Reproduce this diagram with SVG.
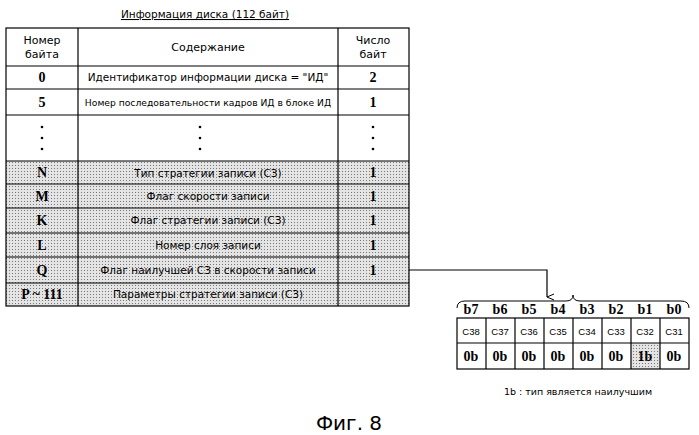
<svg xmlns="http://www.w3.org/2000/svg" width="699" height="435" viewBox="0 0 699 435">
<defs>
<pattern id="dots" width="3" height="3" patternUnits="userSpaceOnUse"><rect width="3" height="3" fill="#e4e4e4"/><rect width="1" height="1" fill="#777"/></pattern>
<marker id="ar" markerWidth="8" markerHeight="8" refX="4" refY="7" orient="auto" markerUnits="userSpaceOnUse"><path d="M1,0 L4,7 L7,0" fill="none" stroke="#000"/></marker>
<style>
text{font-family:"DejaVu Sans",sans-serif;fill:#000;text-anchor:middle}
.t{font-size:10.5px}.h{font-size:11px}.s{font-family:"Liberation Serif",serif;font-size:14px;font-weight:bold}
.g{stroke:#000;stroke-width:1.2;fill:none}
.c{font-size:9.5px;font-family:"Liberation Sans",sans-serif}
</style>
</defs>
<g id="title"><text x="205" y="18" class="t" text-decoration="underline">Информация диска (112 байт)</text></g>
<g id="table">
<rect x="6" y="161" width="403" height="145" fill="url(#dots)"/>
<rect x="6" y="28" width="403" height="278" class="g" stroke-width="1.5"/>
<path class="g" d="M78,28V306M338,28V306M6,66H409M6,89H409M6,115H409M6,161H409M6,184H409M6,208H409M6,233H409M6,257H409M6,283H409"/>
<text x="42" y="44" class="h">Номер</text><text x="42" y="58" class="h">байта</text>
<text x="208" y="51" class="h">Содержание</text>
<text x="373" y="44" class="h">Число</text><text x="373" y="58" class="h">байт</text>
<text x="42" y="82" class="s">0</text><text x="208" y="81" class="t">Идентификатор информации диска = "ИД"</text><text x="373" y="82" class="s">2</text>
<text x="42" y="107" class="s">5</text><text x="208" y="106" font-size="9.2">Номер последовательности кадров ИД в блоке ИД</text><text x="373" y="107" class="s">1</text>
<g fill="#000"><circle cx="42" cy="127" r="1.3"/><circle cx="42" cy="138" r="1.3"/><circle cx="42" cy="149" r="1.3"/>
<circle cx="200" cy="127" r="1.3"/><circle cx="200" cy="138" r="1.3"/><circle cx="200" cy="149" r="1.3"/>
<circle cx="373" cy="127" r="1.3"/><circle cx="373" cy="138" r="1.3"/><circle cx="373" cy="149" r="1.3"/></g>
<text x="42" y="177" class="s">N</text><text x="208" y="177" class="t">Тип стратегии записи (СЗ)</text><text x="373" y="177" class="s">1</text>
<text x="42" y="201" class="s">M</text><text x="208" y="200" class="t">Флаг скорости записи</text><text x="373" y="201" class="s">1</text>
<text x="42" y="225" class="s">K</text><text x="208" y="224" class="t">Флаг стратегии записи (СЗ)</text><text x="373" y="225" class="s">1</text>
<text x="42" y="250" class="s">L</text><text x="208" y="249" class="t">Номер слоя записи</text><text x="373" y="250" class="s">1</text>
<text x="42" y="275" class="s">Q</text><text x="208" y="274" class="t">Флаг наилучшей СЗ в скорости записи</text><text x="373" y="275" class="s">1</text>
<text x="42" y="299" class="s">P ~ 111</text><text x="208" y="298" class="t">Параметры стратегии записи (СЗ)</text>
</g>
<g id="connectors"><path d="M409,270H547V297" fill="none" stroke="#000" stroke-width="1.2" marker-end="url(#ar)"/>
<path d="M457,308Q457,301 465,301H566Q573,301 573,295Q573,301 580,301H681Q689,301 689,308" fill="none" stroke="#000"/></g>
<g id="bits">
<rect x="631" y="343" width="29" height="26" fill="url(#dots)"/>
<rect x="457" y="318" width="232" height="51" class="g"/>
<path class="g" d="M457,343H689M486,318V369M515,318V369M544,318V369M573,318V369M602,318V369M631,318V369M660,318V369"/>
<text x="471" y="314" class="s">b7</text><text x="500" y="314" class="s">b6</text><text x="529" y="314" class="s">b5</text><text x="558" y="314" class="s">b4</text><text x="587" y="314" class="s">b3</text><text x="616" y="314" class="s">b2</text><text x="645" y="314" class="s">b1</text><text x="674" y="314" class="s">b0</text>
<text x="471" y="361" class="s">0b</text><text x="500" y="361" class="s">0b</text><text x="529" y="361" class="s">0b</text><text x="558" y="361" class="s">0b</text><text x="587" y="361" class="s">0b</text><text x="616" y="361" class="s">0b</text><text x="645" y="361" class="s">1b</text><text x="674" y="361" class="s">0b</text>
<text x="471" y="335" class="c">C38</text><text x="500" y="335" class="c">C37</text><text x="529" y="335" class="c">C36</text><text x="558" y="335" class="c">C35</text><text x="587" y="335" class="c">C34</text><text x="616" y="335" class="c">C33</text><text x="645" y="335" class="c">C32</text><text x="674" y="335" class="c">C31</text>
<text x="578" y="395" font-size="9.5">1b : тип является наилучшим</text>
</g>
<g id="caption"><text x="349" y="430" font-size="20">Фиг. 8</text></g>
</svg>
